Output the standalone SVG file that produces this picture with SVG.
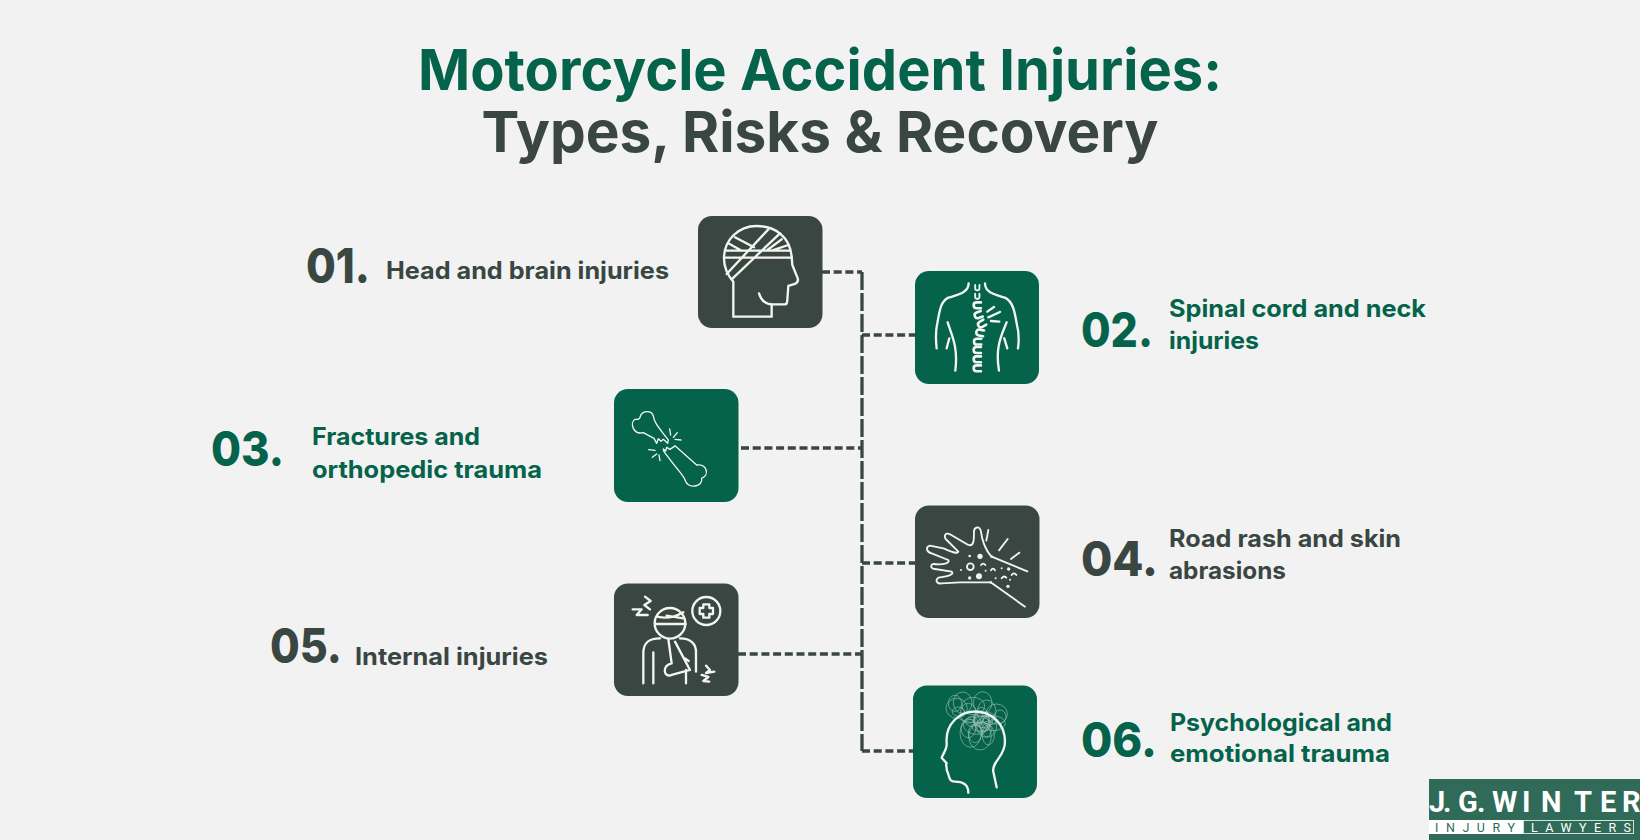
<svg xmlns="http://www.w3.org/2000/svg" xmlns:xlink="http://www.w3.org/1999/xlink" width="1640" height="840" viewBox="0 0 1640 840">
<style>
text{font-family:"Inter","Liberation Sans",sans-serif}
.title{font-size:57px;font-weight:700;text-anchor:middle}
.num{font-size:48px;font-weight:800}
.lab{font-size:24px;font-weight:700}
.g{fill:#05634b}.d{fill:#3a4642}
.ic{fill:none;stroke:#f3f6f0;stroke-width:7;stroke-linecap:round;stroke-linejoin:round}
.thin{stroke-width:4}
.med{stroke-width:5.500}
.scr{fill:none;stroke:#e8efe9;stroke-width:1.800;opacity:.7}
.dot{fill:#f3f6f0;stroke:none}
.h{fill:none;stroke:#3a4642;stroke-width:3.300;stroke-dasharray:8 3.700}
.v{fill:none;stroke:#3a4642;stroke-width:3.300;stroke-dasharray:18 3}
.logo{font-family:"Roboto","Liberation Sans",sans-serif}
</style>
<defs>
<path id="vert" d="M10-8H-2Q-10-8-10 0Q-10 8-2 8H10"/>
</defs>
<rect width="1640" height="840" fill="#f2f2f2"/>
<text class="title g" x="820" y="90" textLength="804" lengthAdjust="spacingAndGlyphs">Motorcycle Accident Injuries:</text>
<text class="title d" x="820" y="152" textLength="677" lengthAdjust="spacingAndGlyphs">Types, Risks &amp; Recovery</text>

<g id="connectors">
<path class="v" d="M862 272V751"/>
<path class="h" d="M822 272H862"/>
<path class="h" d="M862 335H915"/>
<path class="h" d="M741 448H862"/>
<path class="h" d="M862 563H915"/>
<path class="h" d="M738 654H862"/>
<path class="h" d="M862 751H913"/>
</g>

<g id="node-01">
<text class="num d" x="306" y="283" textLength="64" lengthAdjust="spacingAndGlyphs">01.</text>
<text class="lab d" x="386" y="279" textLength="283" lengthAdjust="spacingAndGlyphs">Head and brain injuries</text>
<rect class="d" x="698" y="216" width="124.500" height="112" rx="14"/>
<g class="ic" transform="translate(680 200) scale(.3333)">
<path d="M160 245V350H275V313H315Q322 313 322 300L325 258L345 252Q358 245 352 232L337 195L335 170C330 110 285 78 230 78C175 78 132 120 132 175C132 205 145 228 160 245"/>
<path d="M237 280C245 305 260 313 275 313"/>
<path d="M137 152H328M132 173H335M140 222L265 88M155 238L300 100M165 112L222 142M145 130L185 152M262 150L305 118M275 152L325 135"/>
</g>
</g>

<g id="node-02">
<text class="num g" x="1081" y="347" textLength="72" lengthAdjust="spacingAndGlyphs">02.</text>
<text class="lab g" x="1169" y="317" textLength="257" lengthAdjust="spacingAndGlyphs">Spinal cord and neck</text>
<text class="lab g" x="1169" y="349" textLength="90" lengthAdjust="spacingAndGlyphs">injuries</text>
<rect class="g" x="915" y="271" width="124" height="113" rx="14"/>
<g class="ic" transform="translate(680 200) scale(.3333)">
<path d="M866 250C866 280 830 285 805 293C780 305 778 340 772 370C765 400 768 425 770 445M915 250C915 280 950 285 975 293C1000 305 1005 340 1010 370C1018 400 1017 425 1014 445M803 367C815 405 835 440 826 512M980 367C965 405 945 440 957 512M800 445L808 415M982 445L973 415M922 335L942 321M925 352L960 336M933 363L958 365"/>
<use xlink:href="#vert" transform="translate(892 263) rotate(-90) scale(.8)"/>
<use xlink:href="#vert" transform="translate(892 289) rotate(-90) scale(.8)"/>
<use xlink:href="#vert" transform="translate(892 316) scale(1.100)"/>
<use xlink:href="#vert" transform="translate(895 345) rotate(-20) scale(1.100)"/>
<use xlink:href="#vert" transform="translate(905 372) rotate(-30) scale(1.100)"/>
<use xlink:href="#vert" transform="translate(900 398) rotate(10) scale(1.100)"/>
<use xlink:href="#vert" transform="translate(893 425) scale(1.100)"/>
<use xlink:href="#vert" transform="translate(892 450) scale(1.100)"/>
<use xlink:href="#vert" transform="translate(892 478) scale(1.100)"/>
<use xlink:href="#vert" transform="translate(892 505) scale(1.100)"/>
</g>
</g>

<g id="node-03">
<text class="num g" x="211" y="466" textLength="73" lengthAdjust="spacingAndGlyphs">03.</text>
<text class="lab g" x="312" y="445" textLength="168" lengthAdjust="spacingAndGlyphs">Fractures and</text>
<text class="lab g" x="312" y="478" textLength="230" lengthAdjust="spacingAndGlyphs">orthopedic trauma</text>
<rect class="g" x="614" y="389" width="124.500" height="113" rx="14"/>
<g class="ic thin" transform="translate(600 380) scale(.3333)">
<path d="M162 175L130 158C100 165 88 130 105 118C110 118 118 120 120 112C125 90 155 90 160 108C162 125 170 135 205 180L203 190L190 178L183 184L175 176L170 190Z"/>
<path d="M192 215L190 207L197 213L200 202L210 208L222 200L225 197L290 255C320 250 330 285 305 295C310 320 265 330 255 300C250 285 240 280 192 215Z"/>
<path d="M209 147L212 165M232 158L220 172M243 180L225 178M146 209L165 211M157 232L170 222M180 242L177 225"/>
</g>
</g>

<g id="node-04">
<text class="num d" x="1081" y="576" textLength="77" lengthAdjust="spacingAndGlyphs">04.</text>
<text class="lab d" x="1169" y="547" textLength="232" lengthAdjust="spacingAndGlyphs">Road rash and skin</text>
<text class="lab d" x="1169" y="579" textLength="117" lengthAdjust="spacingAndGlyphs">abrasions</text>
<rect class="d" x="915" y="505.500" width="124.500" height="112.500" rx="14"/>
<g class="ic med" transform="translate(900 495) scale(.3333)">
<path d="M382 229L275 185C255 165 245 130 243 110C240 90 220 95 222 115C222 140 220 155 205 150L150 118C135 110 130 125 140 135L175 170C170 178 155 170 130 160L90 152C75 155 80 172 95 175L145 195C150 205 130 210 100 207C90 210 92 222 105 222L155 230C165 240 135 245 115 248C105 255 110 268 125 265L180 262L272 262L375 335"/>
<path d="M265 105L259 137M323 132L297 166M358 173L333 192"/>
<circle cx="211" cy="215" r="10"/>
<path d="M243 210Q250 202 256 210M273 226Q279 216 285 226M305 250Q312 240 319 248M335 240Q342 230 349 240"/>
<g class="dot">
<circle cx="240" cy="184" r="8"/><circle cx="209" cy="183" r="4"/><circle cx="183" cy="225" r="3"/><circle cx="209" cy="249" r="5"/><circle cx="237" cy="244" r="9"/><circle cx="257" cy="227" r="3"/><circle cx="305" cy="220" r="3"/><circle cx="326" cy="222" r="5"/><circle cx="287" cy="250" r="3"/><circle cx="330" cy="254" r="3"/><circle cx="324" cy="274" r="5"/><circle cx="275" cy="185" r="4"/><circle cx="272" cy="262" r="4"/>
</g>
</g>
</g>

<g id="node-05">
<text class="num d" x="270" y="663" textLength="72" lengthAdjust="spacingAndGlyphs">05.</text>
<text class="lab d" x="355" y="665" textLength="193" lengthAdjust="spacingAndGlyphs">Internal injuries</text>
<rect class="d" x="614" y="583.500" width="124.500" height="112.500" rx="14"/>
<g class="ic" transform="translate(600 575) scale(.3333)">
<circle cx="210" cy="145" r="46"/>
<path d="M165 147H257M172 125Q210 135 250 112M200 122L250 130"/>
<circle cx="319" cy="108" r="42"/>
<path d="M310 88H328V99H339V117H328V128H310V117H299V99H310Z"/>
<path d="M130 325V235C130 200 150 190 180 190M160 232V325M205 192L215 265M225 200L270 285L215 300C190 310 185 270 215 265M240 190C270 190 290 205 288 235V290M258 285V325M255 250L266 258"/>
<path d="M135 65L152 78L133 90L150 103M98 103H125L110 120H143M318 272L330 285L318 294L343 290M305 300L325 306L310 318L328 320"/>
</g>
</g>

<g id="node-06">
<text class="num g" x="1081" y="757" textLength="76" lengthAdjust="spacingAndGlyphs">06.</text>
<text class="lab g" x="1170" y="731" textLength="222" lengthAdjust="spacingAndGlyphs">Psychological and</text>
<text class="lab g" x="1170" y="762" textLength="220" lengthAdjust="spacingAndGlyphs">emotional trauma</text>
<rect class="g" x="913" y="685.500" width="124" height="112.500" rx="14"/>
<g transform="translate(840 680) scale(.3333)">
<g class="scr">
<ellipse cx="368" cy="68" rx="28" ry="32"/><ellipse cx="428" cy="68" rx="28" ry="33"/><ellipse cx="350" cy="85" rx="32" ry="30"/><ellipse cx="400" cy="78" rx="34" ry="26"/><ellipse cx="470" cy="102" rx="32" ry="30"/><ellipse cx="440" cy="95" rx="28" ry="35"/><ellipse cx="385" cy="100" rx="24" ry="30"/><ellipse cx="392" cy="160" rx="32" ry="42"/><ellipse cx="420" cy="170" rx="34" ry="40"/><ellipse cx="440" cy="140" rx="30" ry="32"/><ellipse cx="410" cy="135" rx="40" ry="28"/><ellipse cx="460" cy="130" rx="36" ry="22"/><ellipse cx="385" cy="145" rx="22" ry="28"/><ellipse cx="425" cy="120" rx="22" ry="38"/><ellipse cx="405" cy="160" rx="20" ry="28"/><ellipse cx="345" cy="70" rx="20" ry="24"/><ellipse cx="445" cy="165" rx="18" ry="30"/><ellipse cx="410" cy="110" rx="55" ry="18"/><ellipse cx="430" cy="125" rx="28" ry="18"/><ellipse cx="435" cy="130" rx="16" ry="24"/><ellipse cx="420" cy="140" rx="24" ry="14"/><ellipse cx="450" cy="120" rx="20" ry="14"/><ellipse cx="415" cy="115" rx="14" ry="22"/><ellipse cx="440" cy="150" rx="14" ry="20"/><ellipse cx="395" cy="125" rx="18" ry="14"/><ellipse cx="355" cy="95" rx="18" ry="14"/><ellipse cx="480" cy="110" rx="18" ry="20"/>
</g>
<path d="M385 338C385 310 365 305 345 305C325 305 330 290 320 270C322 260 315 255 320 250L305 233C310 220 322 205 320 190C315 130 360 95 405 95C455 95 495 130 495 185C495 230 455 245 460 275L470 322" fill="none" stroke="#f3f6f0" stroke-width="7" stroke-linecap="round" stroke-linejoin="round"/>
</g>
</g>

<g id="logo">
<rect x="1429" y="779" width="211" height="61" fill="#2f6b58"/>
<text class="logo" y="812" font-size="29" font-weight="700" fill="#fff" x="1429 1443 1450 1458 1477 1484 1492 1522 1541 1574 1600 1622">J. G. WINTER</text>
<rect x="1429" y="820" width="94" height="14" fill="#fff"/>
<rect x="1523.500" y="820.500" width="110" height="13" fill="none" stroke="#cfe0d8" stroke-width="1"/>
<text class="logo" x="1435" y="832" font-size="12.500" font-weight="400" fill="#2f6b58" textLength="80" lengthAdjust="spacing">INJURY</text>
<text class="logo" x="1531" y="832" font-size="12.500" font-weight="400" fill="#fff" textLength="100" lengthAdjust="spacing">LAWYERS</text>
</g>
</svg>
